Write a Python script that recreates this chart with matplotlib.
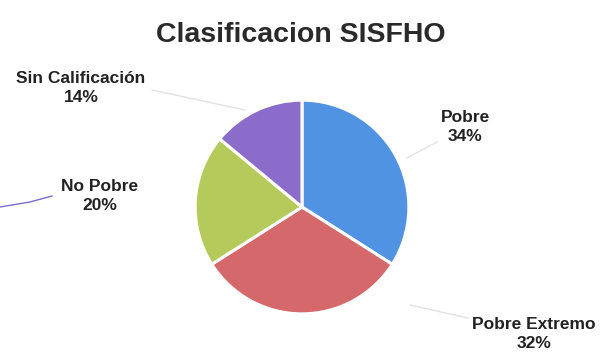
import matplotlib
matplotlib.use("Agg")
import matplotlib.pyplot as plt

categorias = ["Pobre", "Pobre Extremo", "No Pobre", "Sin Calificación"]
porcentajes = [34, 32, 20, 14]
colores = ["#4f93e2", "#d4686a", "#b4cb5b", "#8b6ccb"]

W, H = 601, 352
plt.rcParams["font.family"] = ["Liberation Sans", "DejaVu Sans"]

fig = plt.figure(figsize=(W / 100, H / 100), dpi=100)
fig.patch.set_facecolor("white")


def fx(px):
    return px / W


def fy(py):
    return 1 - py / H


# pie area: centre (302, 207) px, radius ~109 px
cx, cy, r = 302, 207, 109
ax = fig.add_axes([fx(cx - r), fy(cy + r), 2 * r / W, 2 * r / H])
ax.pie(porcentajes, colors=colores, startangle=90, counterclock=False, radius=1,
       wedgeprops=dict(edgecolor="white", linewidth=2.2))
ax.set_xlim(-1.02, 1.02)
ax.set_ylim(-1.02, 1.02)
ax.set_aspect("auto")
ax.axis("off")

fig.text(fx(301), fy(35), "Clasificacion SISFHO", ha="center", va="center",
         fontsize=20.5, fontweight="bold", color="#2a2a2a")

# data labels (name + percentage)
posiciones = {
    "Pobre": (465, 127),
    "Pobre Extremo": (534, 334),
    "No Pobre": (100, 196),
    "Sin Calificación": (81, 88),
}
for nombre, pct in zip(categorias, porcentajes):
    x, y = posiciones[nombre]
    fig.text(fx(x), fy(y), f"{nombre}\n{pct}%", ha="center", va="center",
             fontsize=12.5, fontweight="bold", color="#222222", linespacing=1.3)

# faint leader lines
lineas = [
    ((152, 90), (245, 110)),
    ((437, 142), (407, 158)),
    ((468, 318), (410, 305)),
]
for (x0, y0), (x1, y1) in lineas:
    fig.add_artist(plt.Line2D([fx(x0), fx(x1)], [fy(y0), fy(y1)],
                              transform=fig.transFigure, color="#e2e2e2", lw=1))
fig.add_artist(plt.Line2D([fx(0), fx(30), fx(52)], [fy(207), fy(202), fy(196)],
                          transform=fig.transFigure, color="#7a6cc8", lw=1))

fig.savefig("out.png", dpi=100, facecolor="white")
